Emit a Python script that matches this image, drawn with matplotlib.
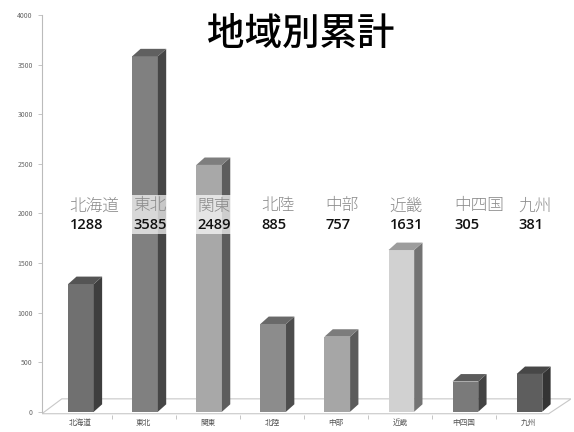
import matplotlib.pyplot as plt
from matplotlib.patches import Polygon

plt.rcParams['font.family'] = ['Noto Sans CJK JP', 'DejaVu Sans']

regions = ['北海道', '東北', '関東', '北陸', '中部', '近畿', '中四国', '九州']
totals = [1288, 3585, 2489, 885, 757, 1631, 305, 381]
grays = [0.44, 0.50, 0.66, 0.55, 0.65, 0.82, 0.48, 0.37]

fig = plt.figure(figsize=(5.74, 4.32), dpi=100)
ax = fig.add_axes([0.073, 0.040, 0.922, 0.925])

x = list(range(len(regions)))
w = 0.40
off = -0.18          # front face left edge relative to category
dx, dy = 0.13, 75    # depth of the fake 3d

# floor
xmin, xmax = -0.59, 7.32
floor = Polygon([(xmin, -20), (xmax, -20), (xmax + 0.35, 130), (xmin + 0.31, 130)],
                closed=True, facecolor='white', edgecolor='#c8c8c8', lw=0.8, zorder=1)
ax.add_patch(floor)

# front faces
ax.bar([i + off for i in x], totals, width=w, align='edge',
       color=[str(g) for g in grays], edgecolor='none', zorder=3)

# side and top faces
for i, v, g in zip(x, totals, grays):
    x0 = i + off
    x1 = x0 + w
    side = Polygon([(x1, 0), (x1 + dx, dy), (x1 + dx, v + dy), (x1, v)],
                   closed=True, facecolor=str(g * 0.55), edgecolor='none', zorder=3)
    top = Polygon([(x0, v), (x1, v), (x1 + dx, v + dy), (x0 + dx, v + dy)],
                  closed=True, facecolor=str(g * 0.75), edgecolor='none', zorder=3)
    ax.add_patch(side)
    ax.add_patch(top)

# labels across the middle
for i, name, v in zip(x, regions, totals):
    ax.text(i - 0.16, 2075, name, fontsize=12, fontweight='light', color='#8a8a8a',
            ha='left', va='center', zorder=5,
            bbox=dict(facecolor='white', edgecolor='none', alpha=0.7, pad=1.5))
    ax.text(i - 0.16, 1880, str(v), fontsize=10.5, fontweight='semibold', color='#111111',
            ha='left', va='center', zorder=5, family=['Open Sans', 'DejaVu Sans'],
            bbox=dict(facecolor='white', edgecolor='none', alpha=0.7, pad=1.5))

ax.set_xlim(xmin, 7.67)
ax.set_ylim(-30, 4000)
ax.set_yticks(range(0, 4001, 500))
ax.set_xticks(x)
ax.set_xticklabels(regions, fontsize=5.5, color='#555555')
ax.tick_params(axis='y', labelsize=5, colors='#666666', length=3, width=0.6, color='#bbbbbb')
ax.tick_params(axis='x', length=0, pad=3)
ax.set_xticks([i + 0.5 for i in x[:-1]], minor=True)
ax.tick_params(axis='x', which='minor', length=3, width=0.6, color='#bbbbbb')

for s in ['top', 'right', 'bottom']:
    ax.spines[s].set_visible(False)
ax.spines['left'].set_color('#bbbbbb')
ax.spines['left'].set_linewidth(0.8)
ax.spines['left'].set_bounds(0, 4000)

fig.text(0.524, 0.922, '地域別累計', fontsize=27, fontweight='medium', ha='center', va='center')

fig.savefig('out.png', dpi=100)
